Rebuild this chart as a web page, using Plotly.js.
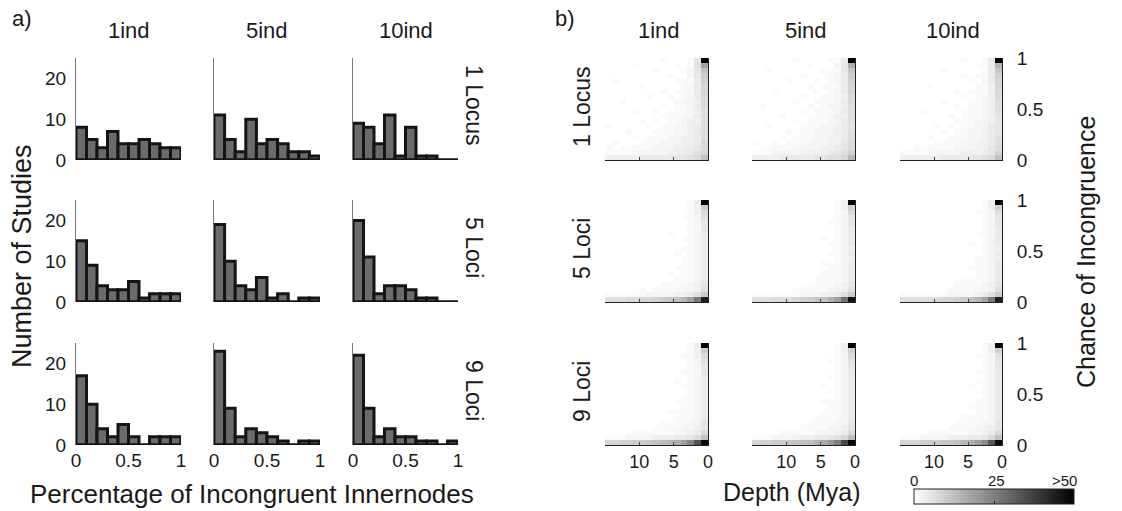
<!DOCTYPE html>
<html><head><meta charset="utf-8">
<script src="https://cdn.plot.ly/plotly-3.0.1.min.js"></script>
<style>html,body{margin:0;padding:0;background:#fff}#chart{width:1122px;height:511px}</style>
</head><body><div id="chart"></div>
<script>
// ---------- DATA: panel a) histograms ----------
const binCenters = [0.05,0.15,0.25,0.35,0.45,0.55,0.65,0.75,0.85,0.95];
const indLabels = ['1ind','5ind','10ind'];
const lociLabels = ['1 Locus','5 Loci','9 Loci'];
const hist_1Locus_1ind  = [8,5,3,7,4,4,5,4,3,3];
const hist_1Locus_5ind  = [11,5,2,10,4,5,4,2,2,1];
const hist_1Locus_10ind = [9,8,4,11,1,8,1,1,0,0];
const hist_5Loci_1ind   = [15,9,4,3,3,5,1,2,2,2];
const hist_5Loci_5ind   = [19,10,4,3,6,1,2,0,1,1];
const hist_5Loci_10ind  = [20,11,2,4,4,3,1,1,0,0];
const hist_9Loci_1ind   = [17,10,4,2,5,2,0,2,2,2];
const hist_9Loci_5ind   = [23,9,2,4,3,2,1,0,1,1];
const hist_9Loci_10ind  = [22,9,2,4,2,2,1,1,0,1];
const xTickVals = [0,0.5,1];
const xTickText = ['0','0.5','1'];
const yTickVals = [0,10,20];

// ---------- DATA: panel b) heatmaps (rows: top -> bottom, cols: left(old) -> right(0 Mya)) ----------
const depthCenters = [14.5,13.5,12.5,11.5,10.5,9.5,8.5,7.5,6.5,5.5,4.5,3.5,2.5,1.5,0.5];
const chanceCenters = [0.975,0.925,0.875,0.825,0.775,0.725,0.675,0.625,0.575,0.525,0.475,0.425,0.375,0.325,0.275,0.225,0.175,0.125,0.075,0.025];
const depthTicks = [10,5,0];
const chanceTicks = [0,0.5,1];
const chanceTickText = ['0','0.5','1'];
const colorTicks = [0,25,50];
const colorTickText = ['0','25','>50'];

const hm_1Locus_1ind = [
[0,0,0,0,0,0,0,0,1,0,0,0,1,5,50],
[0,0,0,0,1,0,0,0,0,0,1,0,1,6,18],
[0,0,0,0,0,0,0,1,0,0,0,1,2,5,12],
[0,0,0,0,0,0,0,0,0,1,0,0,2,5,10],
[0,1,0,0,0,0,0,0,0,0,1,1,1,4,9],
[0,0,0,0,0,1,0,0,0,0,0,1,2,4,8],
[0,0,0,0,0,0,0,0,1,0,1,1,2,4,8],
[0,0,0,0,0,0,1,0,0,1,0,1,2,4,7],
[0,0,1,0,0,0,0,0,0,0,1,2,2,3,7],
[0,0,0,0,0,0,0,0,1,0,1,1,2,4,7],
[0,0,0,0,1,0,0,1,0,1,1,1,2,3,6],
[0,0,0,0,0,0,0,0,1,1,1,2,2,4,6],
[0,0,0,0,0,1,0,1,0,1,1,2,3,3,6],
[1,0,0,0,0,0,1,0,1,1,2,2,3,4,6],
[0,0,0,1,0,0,0,1,1,1,2,2,3,4,6],
[0,0,0,0,1,0,1,1,1,2,2,3,3,4,6],
[0,1,0,0,0,1,1,1,2,2,2,3,3,4,7],
[1,0,1,1,1,1,1,2,2,2,3,3,4,5,7],
[1,1,1,1,2,2,2,2,2,3,3,4,4,6,8],
[3,3,3,3,3,4,4,4,4,4,5,5,6,7,12]];
const hm_1Locus_5ind = [
[0,0,0,0,0,0,1,0,0,0,0,1,1,4,50],
[0,0,0,0,0,0,0,0,1,0,0,0,2,5,16],
[0,0,1,0,0,0,0,0,0,0,1,1,1,5,11],
[0,0,0,0,0,0,0,1,0,0,0,1,2,4,10],
[0,0,0,0,0,1,0,0,0,1,0,1,2,4,9],
[0,0,0,0,0,0,0,0,1,0,1,1,1,4,8],
[0,0,0,1,0,0,0,0,0,1,0,1,2,4,8],
[0,0,0,0,0,0,0,1,0,0,1,1,2,3,7],
[0,0,0,0,0,0,1,0,0,1,1,1,2,4,7],
[0,1,0,0,0,0,0,0,1,0,1,2,2,3,6],
[0,0,0,0,0,0,0,1,0,1,1,1,2,4,6],
[0,0,0,0,1,0,0,0,1,1,1,2,3,3,6],
[0,0,0,0,0,0,1,0,1,1,1,2,2,4,6],
[0,0,1,0,0,0,0,1,1,1,2,2,3,4,5],
[0,0,0,0,0,1,0,1,1,2,2,2,3,4,6],
[0,0,0,0,1,0,1,1,1,2,2,3,3,4,6],
[1,0,0,1,0,1,1,1,2,2,2,3,3,5,7],
[0,1,1,1,1,1,2,2,2,2,3,3,4,5,7],
[1,1,1,2,2,2,2,2,3,3,3,4,5,6,9],
[3,3,3,3,4,4,4,4,4,5,5,6,6,8,14]];
const hm_1Locus_10ind = [
[0,0,0,0,0,0,0,0,0,1,0,0,1,4,50],
[0,0,0,0,0,0,0,0,0,0,0,1,1,4,15],
[0,0,0,0,0,0,1,0,0,0,0,0,1,4,11],
[0,0,0,0,0,0,0,0,0,1,0,1,1,4,9],
[0,0,0,0,0,0,0,0,0,0,1,0,2,4,8],
[0,0,0,0,1,0,0,0,0,0,0,1,1,3,8],
[0,0,0,0,0,0,0,0,1,0,1,1,1,3,7],
[0,0,0,0,0,0,0,0,0,1,0,1,2,3,7],
[0,0,0,0,0,0,1,0,0,0,1,1,2,3,6],
[0,0,0,0,0,0,0,0,1,0,1,1,2,3,6],
[0,0,0,1,0,0,0,0,0,1,1,1,2,3,6],
[0,0,0,0,0,0,0,1,0,1,1,1,2,3,5],
[0,0,0,0,0,0,0,0,1,1,1,2,2,3,5],
[0,0,0,0,0,1,0,1,0,1,1,2,2,4,5],
[0,0,0,0,0,0,1,0,1,1,2,2,3,4,5],
[0,0,0,0,1,0,0,1,1,1,2,2,3,4,6],
[0,0,0,0,0,1,1,1,1,2,2,3,3,4,6],
[0,0,1,1,1,1,1,1,2,2,2,3,3,5,7],
[1,1,1,1,1,2,2,2,2,3,3,3,4,5,8],
[3,3,3,3,3,3,4,4,4,4,5,5,6,7,12]];
const hm_5Loci_1ind = [
[0,0,0,0,0,0,0,0,0,0,0,0,1,4,50],
[0,0,0,0,0,0,0,0,0,0,0,0,1,3,10],
[0,0,0,0,0,0,0,0,0,0,0,0,1,3,7],
[0,0,0,0,0,0,0,0,0,0,0,1,1,2,6],
[0,0,0,0,0,0,0,0,0,0,0,0,1,2,5],
[0,0,0,0,0,0,0,0,0,0,0,0,1,2,5],
[0,0,0,0,0,0,0,0,0,1,0,0,1,2,4],
[0,0,0,0,0,0,0,0,0,0,0,1,1,2,4],
[0,0,0,0,0,0,0,0,0,0,0,0,1,2,4],
[0,0,0,0,0,0,0,0,0,0,0,1,1,2,4],
[0,0,0,0,0,0,0,0,0,0,1,0,1,2,4],
[0,0,0,0,0,0,0,0,0,0,0,1,1,2,4],
[0,0,0,0,0,0,0,0,0,0,0,1,1,2,4],
[0,0,0,0,0,0,0,0,0,0,1,1,1,2,4],
[0,0,0,0,0,0,0,0,0,1,0,1,1,2,4],
[0,0,0,0,0,0,0,0,0,0,1,1,1,2,4],
[0,0,0,0,0,0,0,0,1,1,1,1,2,3,5],
[0,0,0,0,0,1,0,1,1,1,1,2,2,3,6],
[1,1,1,1,1,1,2,2,2,2,3,3,4,6,10],
[6,6,6,7,7,8,8,9,10,11,12,14,18,26,44]];
const hm_5Loci_5ind = [
[0,0,0,0,0,0,0,0,0,0,0,0,1,3,50],
[0,0,0,0,0,0,0,0,0,0,0,0,1,3,9],
[0,0,0,0,0,0,0,0,0,0,0,0,1,2,7],
[0,0,0,0,0,0,0,0,0,0,0,0,1,2,5],
[0,0,0,0,0,0,0,0,0,0,0,1,1,2,5],
[0,0,0,0,0,0,0,0,0,0,0,0,1,2,4],
[0,0,0,0,0,0,0,0,0,0,0,0,1,2,4],
[0,0,0,0,0,0,0,0,0,0,1,0,1,2,4],
[0,0,0,0,0,0,0,0,0,0,0,1,1,2,4],
[0,0,0,0,0,0,0,0,0,0,0,0,1,2,3],
[0,0,0,0,0,0,0,0,0,0,0,1,1,2,4],
[0,0,0,0,0,0,0,0,0,0,0,0,1,2,3],
[0,0,0,0,0,0,0,0,0,0,1,1,1,2,4],
[0,0,0,0,0,0,0,0,0,0,0,1,1,2,4],
[0,0,0,0,0,0,0,0,0,0,1,1,1,2,4],
[0,0,0,0,0,0,0,0,0,1,1,1,1,2,4],
[0,0,0,0,0,0,0,0,1,1,1,1,2,3,5],
[0,0,0,0,0,0,1,1,1,1,1,2,2,3,6],
[1,1,1,1,1,1,1,2,2,2,3,3,4,6,10],
[6,6,6,7,7,7,8,9,10,11,12,15,19,28,46]];
const hm_5Loci_10ind = [
[0,0,0,0,0,0,0,0,0,0,0,0,1,3,50],
[0,0,0,0,0,0,0,0,0,0,0,0,1,3,9],
[0,0,0,0,0,0,0,0,0,0,0,1,1,2,6],
[0,0,0,0,0,0,0,0,0,0,0,0,1,2,5],
[0,0,0,0,0,0,0,0,0,0,0,0,1,2,5],
[0,0,0,0,0,0,0,0,0,0,0,0,1,2,4],
[0,0,0,0,0,0,0,0,0,0,0,1,1,2,4],
[0,0,0,0,0,0,0,0,0,0,0,0,1,2,4],
[0,0,0,0,0,0,0,0,0,0,1,0,1,2,4],
[0,0,0,0,0,0,0,0,0,0,0,1,1,2,3],
[0,0,0,0,0,0,0,0,0,0,0,0,1,2,4],
[0,0,0,0,0,0,0,0,0,0,0,1,1,2,3],
[0,0,0,0,0,0,0,0,0,0,0,1,1,2,4],
[0,0,0,0,0,0,0,0,0,0,1,1,1,2,4],
[0,0,0,0,0,0,0,0,0,0,0,1,1,2,4],
[0,0,0,0,0,0,0,0,0,1,1,1,1,2,4],
[0,0,0,0,0,0,0,0,1,1,1,1,2,3,5],
[0,0,0,0,0,0,0,1,1,1,1,2,2,3,6],
[1,1,1,1,1,1,1,2,2,2,2,3,4,6,10],
[6,6,6,6,7,7,8,8,9,10,12,14,18,26,44]];
const hm_9Loci_1ind = [
[0,0,0,0,0,0,0,0,0,0,0,0,1,4,50],
[0,0,0,0,0,0,0,0,0,0,0,0,1,3,10],
[0,0,0,0,0,0,0,0,0,0,0,1,1,3,7],
[0,0,0,0,0,0,0,0,0,0,0,0,1,2,6],
[0,0,0,0,0,0,0,0,0,0,0,0,1,2,5],
[0,0,0,0,0,0,0,0,0,0,0,1,1,2,5],
[0,0,0,0,0,0,0,0,0,0,0,0,1,2,4],
[0,0,0,0,0,0,0,0,0,0,1,0,1,2,4],
[0,0,0,0,0,0,0,0,0,0,0,1,1,2,4],
[0,0,0,0,0,0,0,0,0,0,0,0,1,2,4],
[0,0,0,0,0,0,0,0,0,0,0,1,1,2,4],
[0,0,0,0,0,0,0,0,0,0,1,1,1,2,4],
[0,0,0,0,0,0,0,0,0,0,0,1,1,2,4],
[0,0,0,0,0,0,0,0,0,1,1,1,1,2,4],
[0,0,0,0,0,0,0,0,0,0,1,1,1,2,4],
[0,0,0,0,0,0,0,0,1,1,1,1,2,2,5],
[0,0,0,0,0,0,0,1,1,1,1,2,2,3,5],
[0,0,0,0,1,1,1,1,1,1,2,2,3,4,7],
[1,1,1,2,2,2,2,3,3,3,4,4,5,7,12],
[8,8,9,9,10,10,11,12,13,14,16,19,24,34,48]];
const hm_9Loci_5ind = [
[0,0,0,0,0,0,0,0,0,0,0,0,1,3,50],
[0,0,0,0,0,0,0,0,0,0,0,0,1,3,9],
[0,0,0,0,0,0,0,0,0,0,0,0,1,2,7],
[0,0,0,0,0,0,0,0,0,0,0,1,1,2,6],
[0,0,0,0,0,0,0,0,0,0,0,0,1,2,5],
[0,0,0,0,0,0,0,0,0,0,0,0,1,2,4],
[0,0,0,0,0,0,0,0,0,0,0,1,1,2,4],
[0,0,0,0,0,0,0,0,0,0,0,0,1,2,4],
[0,0,0,0,0,0,0,0,0,0,1,0,1,2,4],
[0,0,0,0,0,0,0,0,0,0,0,1,1,2,4],
[0,0,0,0,0,0,0,0,0,0,0,0,1,2,4],
[0,0,0,0,0,0,0,0,0,0,1,1,1,2,4],
[0,0,0,0,0,0,0,0,0,0,0,1,1,2,4],
[0,0,0,0,0,0,0,0,0,0,1,1,1,2,4],
[0,0,0,0,0,0,0,0,0,1,1,1,1,2,4],
[0,0,0,0,0,0,0,0,1,1,1,1,2,2,5],
[0,0,0,0,0,0,0,1,1,1,1,2,2,3,5],
[0,0,0,0,1,1,1,1,1,2,2,2,3,4,7],
[1,1,1,2,2,2,3,3,3,4,4,5,6,8,13],
[8,9,9,10,10,11,12,12,13,15,17,20,25,36,49]];
const hm_9Loci_10ind = [
[0,0,0,0,0,0,0,0,0,0,0,0,1,3,50],
[0,0,0,0,0,0,0,0,0,0,0,0,1,3,9],
[0,0,0,0,0,0,0,0,0,0,0,1,1,2,6],
[0,0,0,0,0,0,0,0,0,0,0,0,1,2,5],
[0,0,0,0,0,0,0,0,0,0,0,0,1,2,5],
[0,0,0,0,0,0,0,0,0,0,0,1,1,2,4],
[0,0,0,0,0,0,0,0,0,0,0,0,1,2,4],
[0,0,0,0,0,0,0,0,0,0,0,1,1,2,4],
[0,0,0,0,0,0,0,0,0,0,1,0,1,2,4],
[0,0,0,0,0,0,0,0,0,0,0,1,1,2,4],
[0,0,0,0,0,0,0,0,0,0,0,0,1,2,4],
[0,0,0,0,0,0,0,0,0,0,0,1,1,2,4],
[0,0,0,0,0,0,0,0,0,0,1,1,1,2,4],
[0,0,0,0,0,0,0,0,0,0,0,1,1,2,4],
[0,0,0,0,0,0,0,0,0,1,1,1,1,2,4],
[0,0,0,0,0,0,0,0,1,1,1,1,2,2,5],
[0,0,0,0,0,0,0,1,1,1,1,2,2,3,5],
[0,0,0,0,1,1,1,1,1,1,2,2,3,4,7],
[1,1,1,2,2,2,2,3,3,3,4,4,5,7,12],
[8,8,8,9,10,10,11,11,12,14,16,19,23,33,47]];

// ---------- BUILD ----------
const W = 1122, H = 511;
const FONT = 'Liberation Sans, Arial, Helvetica, sans-serif';
const TXT = '#1a1a1a';
const histData = [
  [hist_1Locus_1ind, hist_1Locus_5ind, hist_1Locus_10ind],
  [hist_5Loci_1ind, hist_5Loci_5ind, hist_5Loci_10ind],
  [hist_9Loci_1ind, hist_9Loci_5ind, hist_9Loci_10ind]];
const hmData = [
  [hm_1Locus_1ind, hm_1Locus_5ind, hm_1Locus_10ind],
  [hm_5Loci_1ind, hm_5Loci_5ind, hm_5Loci_10ind],
  [hm_9Loci_1ind, hm_9Loci_5ind, hm_9Loci_10ind]];

const histCols = [[76,181],[214,320],[353,458]];
const hmCols = [[605,708],[752,855],[900,1002]];
const rowsPx = [[58,160],[200,302],[343,445]];
const xd = p => [p[0]/W, p[1]/W];
const yd = p => [1 - p[1]/H, 1 - p[0]/H];
const TICK = 19;

const traces = [];
const layout = {
  width: W, height: H, margin: {l:0,r:0,t:0,b:0},
  paper_bgcolor: '#fff', plot_bgcolor: 'rgba(0,0,0,0)',
  showlegend: false, bargap: 0,
  font: {family: FONT, color: TXT, size: TICK},
  shapes: [], annotations: []
};

for (let r = 0; r < 3; r++) {
  for (let c = 0; c < 3; c++) {
    const k = r*3 + c + 1;
    traces.push({
      type: 'bar', x: binCenters, y: histData[r][c],
      xaxis: 'x'+k, yaxis: 'y'+k, cliponaxis: false, hoverinfo: 'skip',
      marker: {color: '#6b6b6b', line: {color: '#141414', width: 3}}
    });
    layout['xaxis'+k] = {
      domain: xd(histCols[c]), range: [0,1], anchor: 'y'+k,
      showgrid: false, zeroline: false, showline: false, ticks: '',
      tickvals: xTickVals, ticktext: xTickText, showticklabels: r === 2,
      tickfont: {size: TICK, color: TXT}, ticklabelstandoff: 2
    };
    layout['yaxis'+k] = {
      domain: yd(rowsPx[r]), range: [0,25], anchor: 'x'+k,
      showgrid: false, zeroline: false, showline: true, linecolor: '#777', linewidth: 1,
      ticks: '', tickvals: yTickVals, showticklabels: c === 0,
      tickfont: {size: TICK, color: TXT}, ticklabelstandoff: 5
    };
    layout.shapes.push({type:'line', xref:'x'+k, yref:'y'+k, x0:0, x1:1, y0:0, y1:0,
      line:{color:'#141414', width:3}});
  }
}

for (let r = 0; r < 3; r++) {
  for (let c = 0; c < 3; c++) {
    const k = 10 + r*3 + c;
    const last = (r === 2 && c === 2);
    const tr = {
      type: 'heatmap', x: depthCenters, y: chanceCenters, z: hmData[r][c],
      xaxis: 'x'+k, yaxis: 'y'+k, zmin: 0, zmax: 50, hoverinfo: 'skip',
      colorscale: [[0,'#ffffff'],[1,'#000000']],
      showscale: last
    };
    if (last) {
      tr.colorbar = {
        orientation: 'h', x: 914/W, xanchor: 'left', y: 1 - 508/H, yanchor: 'bottom',
        len: 160, lenmode: 'pixels', thickness: 15, thicknessmode: 'pixels',
        outlinecolor: '#222', outlinewidth: 1, xpad: 0, ypad: 0,
        tickvals: [25], ticks: 'inside', ticklen: 3, tickcolor: '#222',
        showticklabels: false
      };
    }
    traces.push(tr);
    layout['xaxis'+k] = {
      domain: xd(hmCols[c]), range: [15,0], anchor: 'y'+k,
      showgrid: false, zeroline: false, showline: true, linecolor: '#222', linewidth: 1,
      ticks: 'inside', ticklen: 3, tickcolor: '#444',
      tickvals: depthTicks, showticklabels: r === 2,
      tickfont: {size: 18, color: TXT}, ticklabelstandoff: 0
    };
    layout['yaxis'+k] = {
      domain: yd(rowsPx[r]), range: [0,1], anchor: 'x'+k, side: 'right',
      showgrid: false, zeroline: false, showline: true, linecolor: '#222', linewidth: 1,
      ticks: '', tickvals: chanceTicks, ticktext: chanceTickText, showticklabels: c === 2,
      tickfont: {size: TICK, color: TXT}, ticklabelstandoff: 10
    };
  }
}

function ann(text, x, y, size, angle, extra) {
  return Object.assign({text: text, x: x/W, y: 1 - y/H, xref: 'paper', yref: 'paper',
    showarrow: false, xanchor: 'center', yanchor: 'middle', textangle: angle || 0,
    font: {family: FONT, size: size, color: TXT}}, extra || {});
}
const A = layout.annotations;
A.push(ann('a)', 22, 18, 22));
A.push(ann('b)', 565, 18, 22));
for (let c = 0; c < 3; c++) {
  A.push(ann(indLabels[c], (histCols[c][0]+histCols[c][1])/2, 30, 22));
  A.push(ann(indLabels[c], (hmCols[c][0]+hmCols[c][1])/2 + 2, 30, 22));
}
for (let r = 0; r < 3; r++) {
  const yc = (rowsPx[r][0]+rowsPx[r][1])/2;
  A.push(ann(lociLabels[r], 474, yc - 4, 23, 90));
  A.push(ann(lociLabels[r], 582, yc - 2, 23, -90));
}
A.push(ann('Number of Studies', 22, 256, 27, -90));
A.push(ann('Percentage of Incongruent Innernodes', 252, 494, 26));
A.push(ann('Depth (Mya)', 792, 492, 25));
A.push(ann('Chance of Incongruence', 1086, 252, 25, -90));
const cbX = [914, 996, 1064];
for (let i = 0; i < 3; i++) {
  A.push(ann(colorTickText[i], cbX[i], 480, 15));
}

Plotly.newPlot('chart', traces, layout, {staticPlot: true, displayModeBar: false});
</script>
</body></html>
